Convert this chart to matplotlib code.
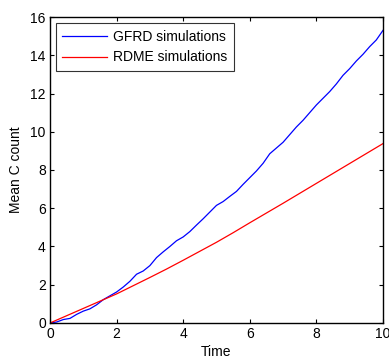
import numpy as np
import matplotlib
matplotlib.use('Agg')
from matplotlib import pyplot as plt

plt.rcParams['font.family'] = ['Liberation Sans', 'DejaVu Sans']

# mean product count over time, two simulation methods
t_gfrd = [0.0, 0.2, 0.4, 0.6, 0.8, 1.0, 1.2, 1.4, 1.6, 1.8, 2.0, 2.2, 2.4, 2.6, 2.8,
          3.0, 3.2, 3.4, 3.6, 3.8, 4.0, 4.2, 4.4, 4.6, 4.8, 5.0, 5.2, 5.4, 5.6, 5.8,
          6.0, 6.2, 6.4, 6.6, 6.8, 7.0, 7.2, 7.4, 7.6, 7.8, 8.0, 8.2, 8.4, 8.6, 8.8,
          9.0, 9.2, 9.4, 9.6, 9.8, 10.0]
c_gfrd = [0.0, 0.05, 0.18, 0.24, 0.45, 0.62, 0.74, 0.95, 1.22, 1.42, 1.62, 1.88, 2.18, 2.55, 2.72,
          3.0, 3.42, 3.72, 4.0, 4.3, 4.5, 4.78, 5.12, 5.45, 5.8, 6.15, 6.35, 6.62, 6.88, 7.25,
          7.6, 7.95, 8.35, 8.85, 9.15, 9.45, 9.85, 10.25, 10.6, 11.0, 11.4, 11.75, 12.1, 12.5, 12.95,
          13.3, 13.7, 14.05, 14.45, 14.8, 15.3]

t_rdme = [0.0, 0.5, 1.0, 1.5, 2.0, 2.5, 3.0, 3.5, 4.0, 4.5, 5.0, 5.5, 6.0, 6.5, 7.0,
          7.5, 8.0, 8.5, 9.0, 9.5, 10.0]
c_rdme = [0.0, 0.38, 0.76, 1.14, 1.52, 1.95, 2.38, 2.82, 3.28, 3.75, 4.22, 4.72, 5.24, 5.75, 6.26,
          6.78, 7.3, 7.82, 8.34, 8.86, 9.38]

xticks = [0, 2, 4, 6, 8, 10]
yticks = [0, 2, 4, 6, 8, 10, 12, 14, 16]

fig = plt.figure(figsize=(3.89, 3.58), dpi=100)
ax = fig.add_axes([0.1285, 0.0978, 0.856, 0.8547])

ax.plot(t_gfrd, c_gfrd, color='#0000ff', lw=0.9, label='GFRD simulations')
ax.plot(t_rdme, c_rdme, color='#ff0000', lw=0.9, label='RDME simulations')

ax.set_xlim(0, 10)
ax.set_ylim(0, 16)
ax.set_xticks(xticks)
ax.set_yticks(yticks)
ax.tick_params(direction='in', length=3, width=0.8, labelsize=10, top=True, right=True, pad=3)
for s in ax.spines.values():
    s.set_linewidth(1.0)

ax.set_xlabel('Time', fontsize=10, labelpad=3)
ax.set_ylabel('Mean C count', fontsize=10, labelpad=5)

leg = ax.legend(loc='upper left', fontsize=10, frameon=True, fancybox=False,
                edgecolor='black', handlelength=3.2, borderpad=0.5,
                labelspacing=0.5, borderaxespad=0.4, handletextpad=0.45)
leg.get_frame().set_linewidth(0.8)

fig.savefig('out.png', dpi=100)
